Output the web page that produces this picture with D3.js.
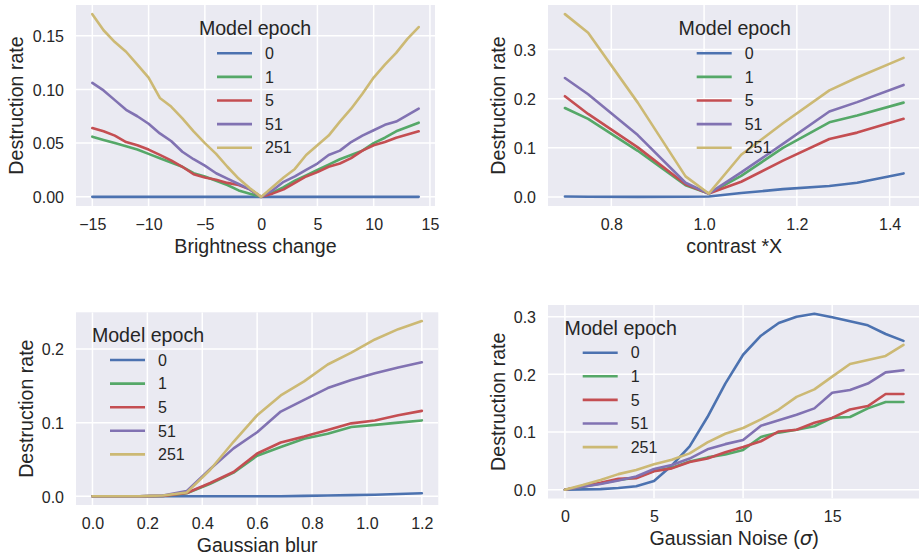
<!DOCTYPE html>
<html>
<head>
<meta charset="utf-8">
<script src="https://cdn.jsdelivr.net/npm/d3@7"></script>
<style>
  html, body { margin: 0; padding: 0; background: #ffffff; }
  svg { display: block; }
  text { font-family: "Liberation Sans", Arial, sans-serif; fill: #262626; }
</style>
</head>
<body>
<svg id="chart" width="919" height="554"></svg>
<script>
// ---------------- data ----------------
const legendTitle = "Model epoch";
const epochs = ["0", "1", "5", "51", "251"];
const colors = ["#4C72B0", "#55A868", "#C44E52", "#8172B2", "#CCB974"];

// Panel 1: brightness change
const brightnessX = [-15,-14,-13,-12,-11,-10,-9,-8,-7,-6,-5,-4,-3,-2,-1,0,1,2,3,4,5,6,7,8,9,10,11,12,13,14];
const brightnessE0   = [0,0,0,0,0,0,0,0,0,0,0,0,0,0,0,0,0,0,0,0,0,0,0,0,0,0,0,0,0,0];
const brightnessE1   = [0.056,0.053,0.050,0.047,0.044,0.040,0.036,0.032,0.028,0.022,0.019,0.015,0.011,0.006,0.003,0,0.004,0.009,0.015,0.020,0.025,0.030,0.035,0.039,0.043,0.050,0.055,0.061,0.065,0.069];
const brightnessE5   = [0.064,0.061,0.057,0.051,0.048,0.044,0.039,0.034,0.028,0.021,0.018,0.016,0.013,0.011,0.007,0,0.003,0.007,0.013,0.019,0.023,0.028,0.031,0.036,0.043,0.048,0.051,0.055,0.058,0.061];
const brightnessE51  = [0.106,0.099,0.090,0.081,0.075,0.068,0.059,0.052,0.042,0.035,0.029,0.022,0.017,0.012,0.007,0,0.006,0.014,0.019,0.025,0.031,0.039,0.043,0.051,0.057,0.062,0.067,0.070,0.076,0.082];
const brightnessE251 = [0.170,0.155,0.144,0.135,0.123,0.111,0.092,0.084,0.073,0.061,0.050,0.040,0.028,0.017,0.008,0,0.009,0.018,0.026,0.039,0.048,0.057,0.070,0.082,0.096,0.111,0.123,0.134,0.147,0.158];
const brightnessXTicks = [-15,-10,-5,0,5,10,15];
const brightnessYTicks = [0, 0.05, 0.10, 0.15];

// Panel 2: contrast
const contrastX = [0.7,0.75,0.857,0.96,1.01,1.08,1.17,1.27,1.33,1.43];
const contrastE0   = [0.001,0.0005,0.0003,0.0005,0.001,0.008,0.016,0.0225,0.029,0.048];
const contrastE1   = [0.181,0.159,0.094,0.024,0.007,0.043,0.100,0.152,0.166,0.192];
const contrastE5   = [0.205,0.169,0.101,0.026,0.007,0.031,0.074,0.118,0.131,0.159];
const contrastE51  = [0.242,0.209,0.126,0.029,0.007,0.050,0.108,0.174,0.193,0.228];
const contrastE251 = [0.372,0.334,0.192,0.042,0.007,0.086,0.150,0.217,0.243,0.283];
const contrastXTicks = [0.8,1.0,1.2,1.4];
const contrastYTicks = [0,0.1,0.2,0.3];

// Panel 3: gaussian blur
const blurX = [0,0.086,0.171,0.257,0.343,0.429,0.514,0.6,0.686,0.771,0.857,0.943,1.029,1.114,1.2];
const blurE0   = [0,0,0,0,0,0,0,0,0,0.0005,0.001,0.0015,0.002,0.003,0.004];
const blurE1   = [0,0,0,0.0005,0.004,0.017,0.032,0.055,0.067,0.078,0.085,0.094,0.097,0.100,0.103];
const blurE5   = [0,0,0,0.0005,0.0045,0.018,0.033,0.058,0.073,0.081,0.090,0.099,0.103,0.110,0.116];
const blurE51  = [0,0,0,0.001,0.007,0.037,0.065,0.087,0.115,0.131,0.147,0.158,0.167,0.175,0.182];
const blurE251 = [0,0,0,0.001,0.005,0.036,0.074,0.110,0.137,0.156,0.179,0.195,0.213,0.227,0.238];
const blurXTicks = [0,0.2,0.4,0.6,0.8,1.0,1.2];
const blurYTicks = [0,0.1,0.2];

// Panel 4: gaussian noise
const noiseX = [0,1,2,3,4,5,6,7,8,9,10,11,12,13,14,15,16,17,18,19];
const noiseE0   = [0,0.0006,0.001,0.003,0.006,0.015,0.042,0.075,0.126,0.184,0.234,0.267,0.289,0.300,0.305,0.299,0.292,0.285,0.270,0.258];
const noiseE1   = [0,0.005,0.011,0.017,0.021,0.033,0.038,0.049,0.056,0.061,0.069,0.0915,0.099,0.104,0.110,0.1245,0.126,0.141,0.152,0.152];
const noiseE5   = [0,0.006,0.012,0.019,0.020,0.032,0.037,0.048,0.054,0.065,0.074,0.084,0.101,0.104,0.116,0.1245,0.139,0.145,0.166,0.166];
const noiseE51  = [0,0.005,0.010,0.016,0.023,0.036,0.043,0.054,0.070,0.079,0.086,0.111,0.1205,0.130,0.141,0.168,0.173,0.184,0.2035,0.207];
const noiseE251 = [0,0.008,0.017,0.027,0.034,0.044,0.052,0.063,0.082,0.097,0.107,0.122,0.139,0.161,0.174,0.196,0.218,0.225,0.232,0.251];
const noiseXTicks = [0,5,10,15];
const noiseYTicks = [0,0.1,0.2,0.3];

// ---------------- layout ----------------
const panels = [
  { x: brightnessX, series: [brightnessE0, brightnessE1, brightnessE5, brightnessE51, brightnessE251],
    xTicks: brightnessXTicks, yTicks: brightnessYTicks, yFmt: d3.format(".2f"), xFmt: d => d3.format("d")(d).replace("-", "\u2212"),
    xlabel: "Brightness change", box: { l: 76, r: 435, t: 5, b: 206 }, ylabX: 23,
    legend: { x: 217, y: 53.3 } },
  { x: contrastX, series: [contrastE0, contrastE1, contrastE5, contrastE51, contrastE251],
    xTicks: contrastXTicks, yTicks: contrastYTicks, yFmt: d3.format(".1f"), xFmt: d3.format(".1f"),
    xlabel: "contrast *X", box: { l: 548, r: 920.5, t: 5, b: 206 }, ylabX: 505,
    legend: { x: 696.7, y: 53.3 } },
  { x: blurX, series: [blurE0, blurE1, blurE5, blurE51, blurE251],
    xTicks: blurXTicks, yTicks: blurYTicks, yFmt: d3.format(".1f"), xFmt: d3.format(".1f"),
    xlabel: "Gaussian blur", box: { l: 76, r: 438.3, t: 312.3, b: 505 }, ylabX: 33,
    legend: { x: 110, y: 360 } },
  { x: noiseX, series: [noiseE0, noiseE1, noiseE5, noiseE51, noiseE251],
    xTicks: noiseXTicks, yTicks: noiseYTicks, yFmt: d3.format(".1f"), xFmt: d3.format("d"),
    xlabel: null, box: { l: 548, r: 920.4, t: 305, b: 498.5 }, ylabX: 505,
    legend: { x: 582.7, y: 352.7 } }
];

const svg = d3.select("#chart");
const tickFont = 16, labelFont = 19.6, rowH = 23.6;

function padded(ext) { const p = (ext[1] - ext[0]) * 0.05; return [ext[0] - p, ext[1] + p]; }

panels.forEach((P, pi) => {
  const B = P.box;
  const allY = P.series.flat();
  const xs = d3.scaleLinear().domain(padded(d3.extent(P.x))).range([B.l, B.r]);
  const ys = d3.scaleLinear().domain(padded(d3.extent(allY))).range([B.b, B.t]);
  const g = svg.append("g");

  const clipId = "clip" + pi;
  svg.append("clipPath").attr("id", clipId).append("rect")
    .attr("x", B.l).attr("y", B.t).attr("width", B.r - B.l).attr("height", B.b - B.t);

  g.append("rect").attr("x", B.l).attr("y", B.t).attr("width", B.r - B.l).attr("height", B.b - B.t)
    .attr("fill", "#EAEAF2");

  // grid
  const grid = g.append("g").attr("clip-path", `url(#${clipId})`);
  grid.selectAll(".gx").data(P.xTicks).join("line")
    .attr("x1", d => xs(d)).attr("x2", d => xs(d)).attr("y1", B.t).attr("y2", B.b)
    .attr("stroke", "#ffffff").attr("stroke-width", 1.5);
  grid.selectAll(".gy").data(P.yTicks).join("line")
    .attr("y1", d => ys(d)).attr("y2", d => ys(d)).attr("x1", B.l).attr("x2", B.r)
    .attr("stroke", "#ffffff").attr("stroke-width", 1.5);

  // axes via d3 axis generators (no tick lines/domain)
  const xAxis = d3.axisBottom(xs).tickValues(P.xTicks).tickFormat(P.xFmt).tickSize(0).tickPadding(0);
  const xa = g.append("g").attr("transform", `translate(0,${B.b})`).call(xAxis);
  xa.select(".domain").remove();
  xa.selectAll("text").attr("y", 23.7).attr("dy", null)
    .style("font-family", "Liberation Sans, Arial, sans-serif").style("font-size", tickFont + "px").attr("fill", "#262626");

  const yAxis = d3.axisLeft(ys).tickValues(P.yTicks).tickFormat(P.yFmt).tickSize(0).tickPadding(0);
  const ya = g.append("g").attr("transform", `translate(${B.l},0)`).call(yAxis);
  ya.select(".domain").remove();
  ya.selectAll("text").attr("x", -12).attr("dy", "0.36em")
    .style("font-family", "Liberation Sans, Arial, sans-serif").style("font-size", tickFont + "px").attr("fill", "#262626");

  // lines
  const lineGen = d3.line().x((d, i) => xs(P.x[i])).y(d => ys(d));
  const lg = g.append("g").attr("clip-path", `url(#${clipId})`);
  P.series.forEach((s, si) => {
    lg.append("path").attr("d", lineGen(s)).attr("fill", "none")
      .attr("stroke", colors[si]).attr("stroke-width", 2.6)
      .attr("stroke-linejoin", "round").attr("stroke-linecap", "round");
  });

  // axis labels
  const cx = (B.l + Math.min(B.r, 919)) / 2;
  const xl = g.append("text").attr("x", (B.l + B.r) / 2).attr("y", B.b + 46.5)
    .attr("text-anchor", "middle").style("font-size", labelFont + "px");
  if (P.xlabel) xl.text(P.xlabel);
  else {
    xl.append("tspan").text("Gaussian Noise (");
    xl.append("tspan").text("\u03C3").style("font-style", "italic").style("font-family", "DejaVu Sans");
    xl.append("tspan").text(")");
  }
  g.append("text").attr("transform", `translate(${P.ylabX},${(B.t + B.b) / 2}) rotate(-90)`)
    .attr("text-anchor", "middle").style("font-size", labelFont + "px").text("Destruction rate");

  // legend
  const L = P.legend;
  g.append("text").attr("x", L.x + 38).attr("y", L.y - 18)
    .attr("text-anchor", "middle").style("font-size", labelFont + "px").text(legendTitle);
  epochs.forEach((e, ei) => {
    const yy = L.y + ei * rowH;
    g.append("line").attr("x1", L.x).attr("x2", L.x + 35).attr("y1", yy).attr("y2", yy)
      .attr("stroke", colors[ei]).attr("stroke-width", 2.6);
    g.append("text").attr("x", L.x + 48).attr("y", yy + 5.7).style("font-size", tickFont + "px").text(e);
  });
});
</script>
</body>
</html>
